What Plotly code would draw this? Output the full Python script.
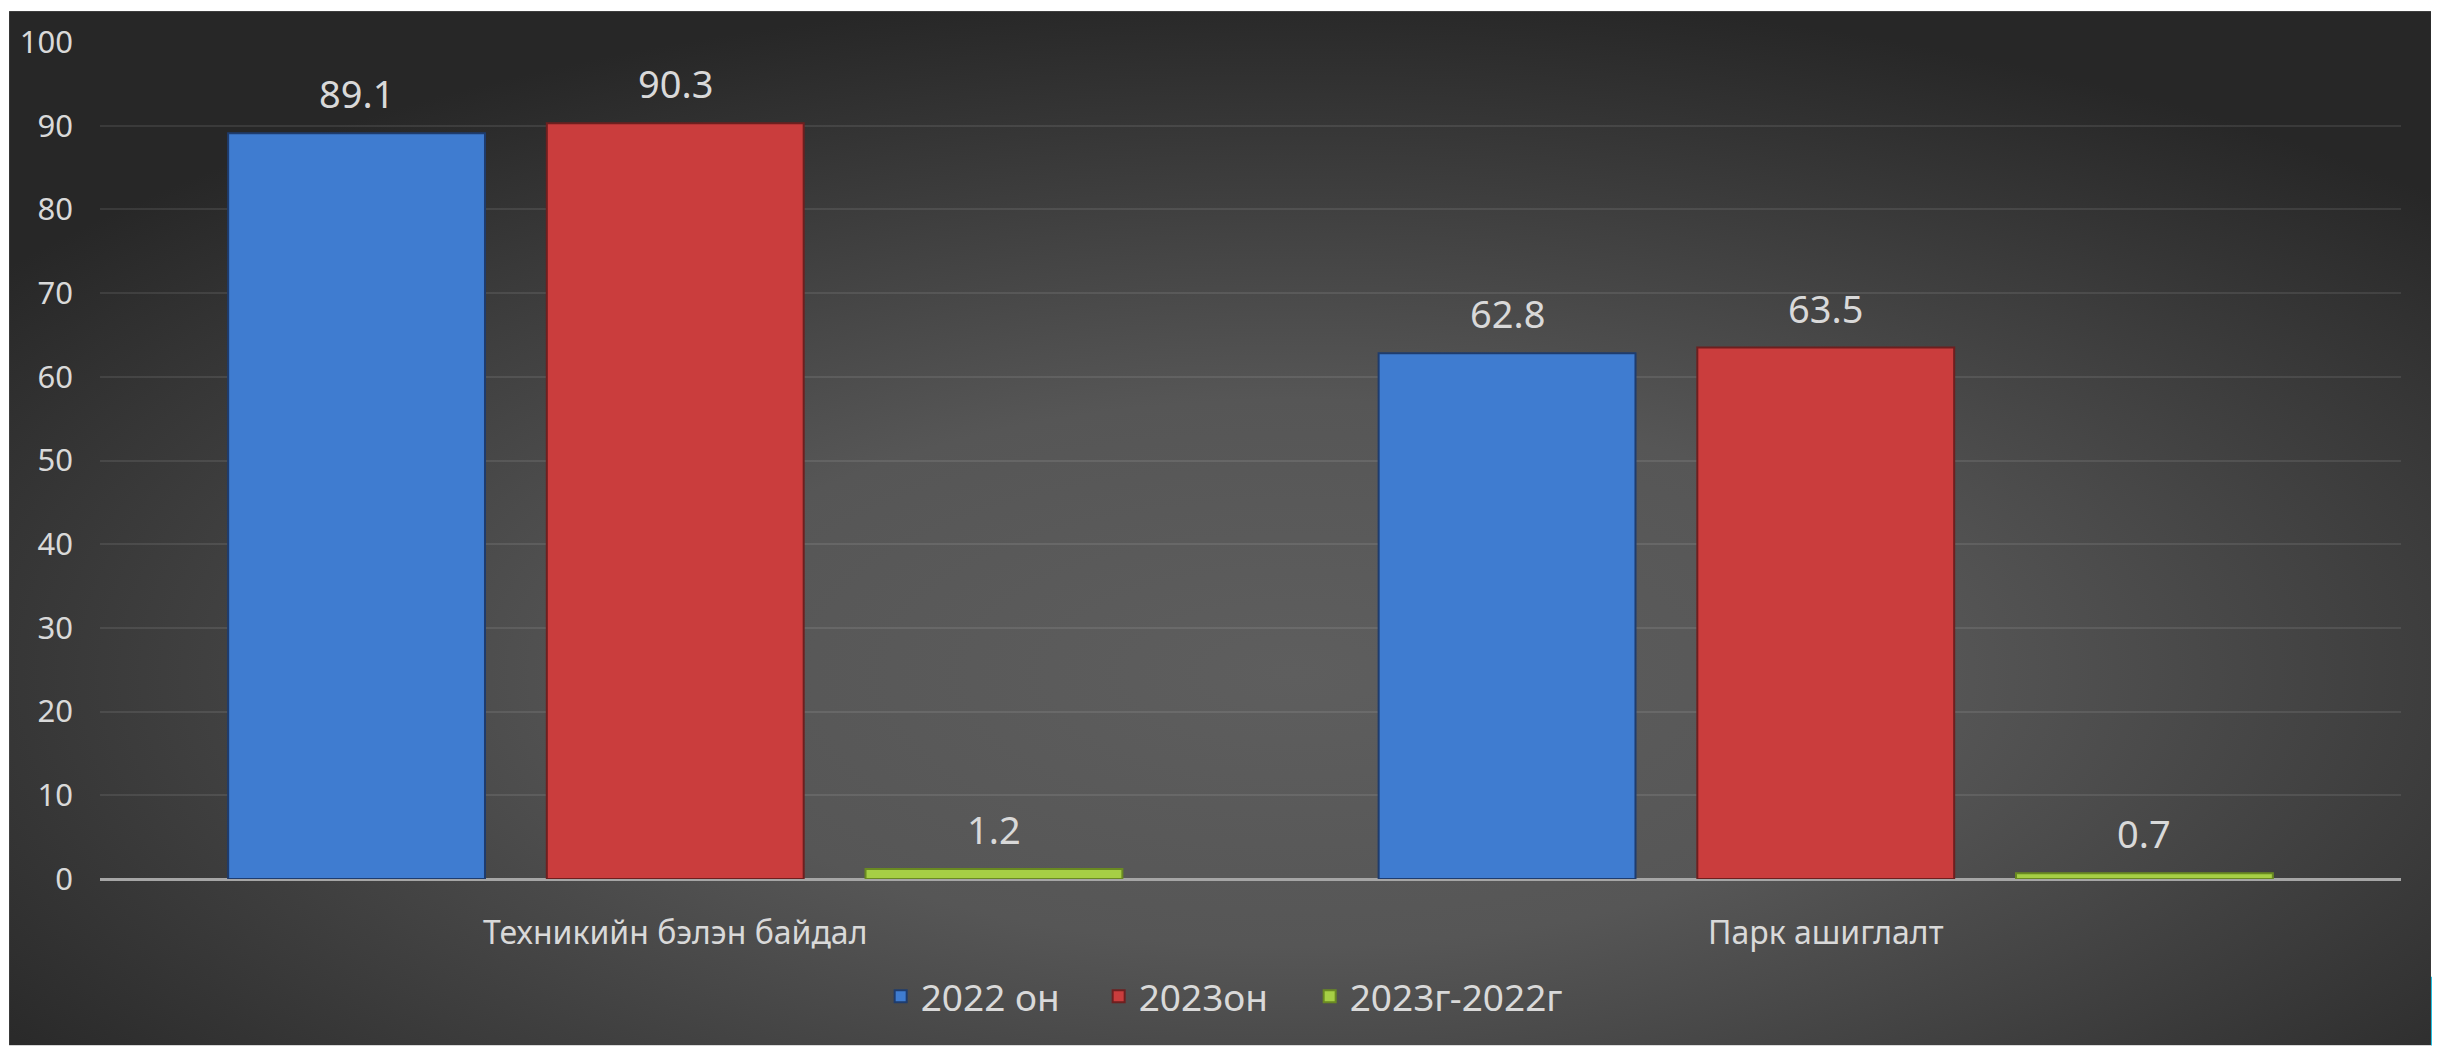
import base64
import plotly.graph_objects as go

categories = ["Техникийн бэлэн байдал", "Парк ашиглалт"]
series_names = ["2022 он", "2023он", "2023г-2022г"]
values_2022 = [89.1, 62.8]
values_2023 = [90.3, 63.5]
values_diff = [1.2, 0.7]
y_ticks = [0, 10, 20, 30, 40, 50, 60, 70, 80, 90, 100]

series_values = [values_2022, values_2023, values_diff]
fill_colors = ["#3f7cd0", "#ca3d3d", "#a6cf45"]
line_colors = ["#1e3c6e", "#6e1f1f", "#6a8a22"]
legend_widths = [173, 166, None]

# the page places the figure 8px in from the top-left corner
OFF = 8
W, H = 2440 - OFF, 1046 - OFF
ML, MR, MT = 99 - OFF, 39, 39 - OFF
MB = H - (879 - OFF)
PW, PH = W - ML - MR, H - MT - MB
BARGAP = 0.169
BARGROUPGAP = 0.194
TXT = "#d9d9d9"
FONT = "Noto Sans"

fig = go.Figure()
for name, vals, fc, lc, lw in zip(series_names, series_values, fill_colors,
                                  line_colors, legend_widths):
    bar = go.Bar(
        name=name, x=categories, y=vals,
        marker=dict(color=fc, line=dict(color=lc, width=2)),
        hoverinfo="x+y+name",
    )
    if lw:
        bar.legendwidth = lw
    fig.add_trace(bar)

# data labels, positioned on the category scale from the bar layout settings
n = len(series_names)
slot = (1 - BARGAP) / n
annotations = []
for i, vals in enumerate(series_values):
    for j, v in enumerate(vals):
        annotations.append(dict(
            x=j + (i - (n - 1) / 2) * slot, y=v, xref="x", yref="y",
            text=f"{v:.1f}", showarrow=False, yanchor="middle", yshift=40,
            font=dict(family=FONT, size=38, color=TXT),
        ))

# background gradient panel
svg = (
    '<svg xmlns="http://www.w3.org/2000/svg" width="2428" height="1041" '
    'viewBox="0 0 2428 1041" preserveAspectRatio="none">'
    '<defs><radialGradient id="g" cx="0.53" cy="0.64" r="0.66">'
    '<stop offset="0" stop-color="#5e5e5e"/>'
    '<stop offset="0.4" stop-color="#565656"/>'
    '<stop offset="1" stop-color="#272727"/>'
    '</radialGradient></defs>'
    '<rect width="100%" height="100%" fill="url(#g)"/></svg>'
)
src = "data:image/svg+xml;base64," + base64.b64encode(svg.encode()).decode()


def px_x(p):
    """page x pixel -> paper coordinate"""
    return (p - OFF - ML) / PW


def px_y(p):
    """page y pixel -> paper coordinate"""
    return (H - MB - (p - OFF)) / PH


fig.update_layout(
    width=W, height=H,
    margin=dict(l=ML, r=MR, t=MT, b=MB, pad=0),
    paper_bgcolor="white",
    plot_bgcolor="rgba(0,0,0,0)",
    barmode="group", bargap=BARGAP, bargroupgap=BARGROUPGAP,
    font=dict(family=FONT, color=TXT),
    images=[dict(
        source=src, xref="paper", yref="paper",
        x=px_x(OFF), y=px_y(OFF), sizex=(2431 - OFF) / PW, sizey=(1046 - OFF) / PH,
        xanchor="left", yanchor="top", sizing="stretch", layer="below",
    )],
    shapes=[dict(
        type="rect", xref="paper", yref="paper",
        x0=px_x(2431), x1=px_x(2440), y0=px_y(977), y1=px_y(1046),
        fillcolor="#22c0e2", line=dict(width=0), layer="above",
    )],
    annotations=annotations,
    showlegend=True,
    legend=dict(
        orientation="h", x=px_x(880), xanchor="left",
        y=px_y(997), yanchor="middle",
        font=dict(family=FONT, size=37, color=TXT),
        bgcolor="rgba(0,0,0,0)",
    ),
    xaxis=dict(
        type="category", showgrid=False, zeroline=False, showline=False,
        ticks="", tickfont=dict(family=FONT, size=32, color=TXT),
        ticklabelstandoff=32,
    ),
    yaxis=dict(
        range=[0, 100], tickvals=y_ticks, ticks="",
        showgrid=True, gridcolor="rgba(255,255,255,0.09)", gridwidth=2,
        zeroline=True, zerolinecolor="#a6a6a6", zerolinewidth=3,
        showline=False,
        tickfont=dict(family=FONT, size=31, color=TXT),
        ticklabelstandoff=26,
    ),
)

fig.write_html("out.html")
